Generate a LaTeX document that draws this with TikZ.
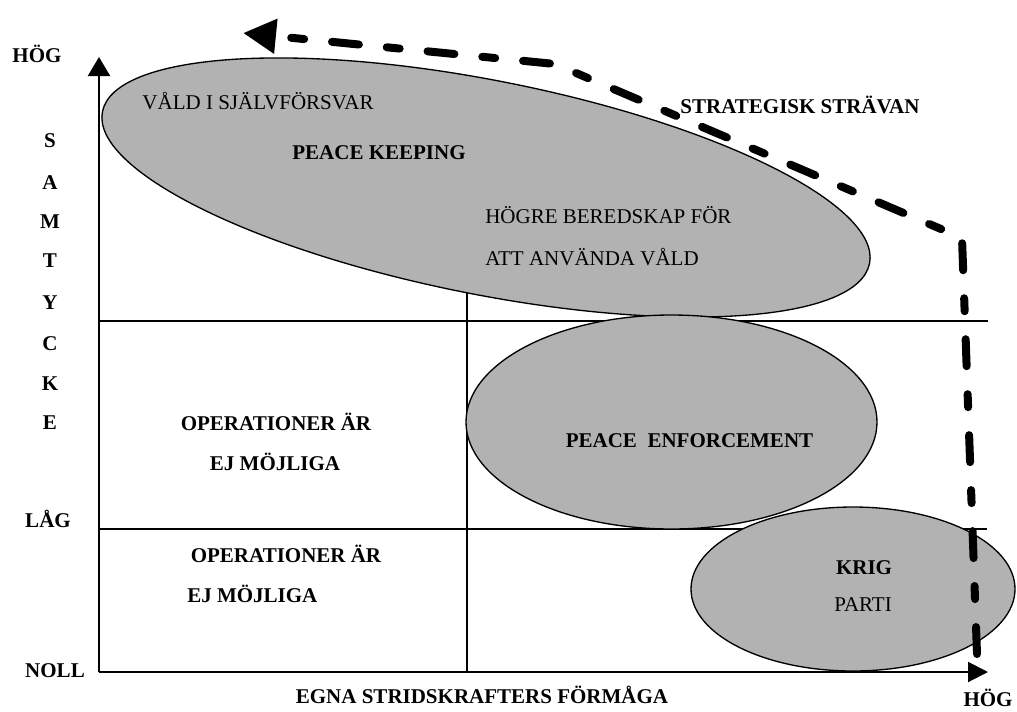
\documentclass[tikz,border=0pt]{standalone}
\usepackage{fontspec}
\setmainfont{Liberation Serif}
\usetikzlibrary{arrows.meta,shapes.geometric}
\definecolor{ellfill}{RGB}{178,178,178}
\begin{document}
\begin{tikzpicture}[x=0.75pt,y=-0.75pt,
  gridline/.style={line width=1pt},
  axisline/.style={line width=1.5pt},
  blob/.style={ellipse, draw, fill=ellfill, line width=1pt, inner sep=0pt},
  txt/.style={inner sep=0pt, text height=10.5pt, text depth=0pt, font=\fontsize{15.75}{18}\selectfont},
  btxt/.style={inner sep=0pt, text height=10.5pt, text depth=0pt, font=\fontsize{15.75}{18}\selectfont\bfseries},
  strategy/.style={line width=6pt, line cap=round, line join=round, dash pattern=on 20.25pt off 21pt on 9.75pt off 21pt}
]
\useasboundingbox (0,0) rectangle (1017,711);

% coordinates
\coordinate (o) at (99,672);
\coordinate (ytip) at (99,57);
\coordinate (xtip) at (988,672);
\coordinate (g1l) at (99,321);
\coordinate (g1r) at (988,321);
\coordinate (g2l) at (99,529);
\coordinate (g2r) at (987,529);
\coordinate (vb) at (467,673);
\coordinate (vt) at (467,250);

% grid lines
\draw[gridline] (g1l) -- (g1r);
\draw[gridline] (g2l) -- (g2r);
\draw[gridline] (vb) -- (vt);

% ellipses
\node[blob, minimum width=586.5pt, minimum height=160.5pt, rotate=-11.2] (pkell) at (486,187.5) {};
\node[blob, minimum width=308.25pt, minimum height=160.5pt] (peell) at (671.5,422) {};
\node[blob, minimum width=243pt, minimum height=123pt] (krigell) at (853,589) {};

% axes
\draw[axisline, -{Triangle[length=14.25pt,width=16.5pt]}] (o) -- (ytip);
\draw[axisline, -{Triangle[length=15pt,width=15pt]}] (o) -- (xtip);

% axis labels
\node[btxt] (hogtop) at (37,55.5) {HÖG};
\node[btxt] (ls) at (50,140) {S};
\node[btxt] (la) at (50,182) {A};
\node[btxt] (lm) at (50,221) {M};
\node[btxt] (lt) at (50,260) {T};
\node[btxt] (ly) at (50,302) {Y};
\node[btxt] (lc) at (50,343) {C};
\node[btxt] (lk) at (50,383) {K};
\node[btxt] (le) at (50,422) {E};
\node[btxt] (lag) at (48,520) {LÅG};
\node[btxt] (noll) at (55,670) {NOLL};
\node[btxt] (xlabel) at (482,696) {EGNA STRIDSKRAFTERS FÖRMÅGA};
\node[btxt] (hogx) at (988,699) {HÖG};

% region texts
\node[btxt] (ops1a) at (276,423) {OPERATIONER ÄR};
\node[btxt] (ops1b) at (275,463) {EJ MÖJLIGA};
\node[btxt] (ops2a) at (286,555) {OPERATIONER ÄR};
\node[btxt, anchor=west] (ops2b) at (187,595) {EJ MÖJLIGA};

% ellipse texts
\node[txt] (vald) at (258,102) {VÅLD I SJÄLVFÖRSVAR};
\node[btxt] (pk) at (379,152) {PEACE KEEPING};
\node[txt, anchor=west] (hb) at (485,216) {HÖGRE BEREDSKAP FÖR};
\node[txt, anchor=west] (att) at (485,258) {ATT ANVÄNDA VÅLD};
\node[btxt] (pe) at (689.5,440) {PEACE\ \ ENFORCEMENT};
\node[btxt] (krig) at (864,567) {KRIG};
\node[txt] (parti) at (863,604) {PARTI};

% strategic direction
\node[btxt] (strat) at (800,106) {STRATEGISK STRÄVAN};
\coordinate (s0) at (977,654);
\coordinate (s1) at (962,238);
\coordinate (s2) at (555,64);
\coordinate (s3) at (243,33);
\draw[strategy, -{Triangle[length=24.75pt,width=24.75pt]}] (s0) -- (s1) -- (s2) -- (s3);
\end{tikzpicture}
\end{document}
